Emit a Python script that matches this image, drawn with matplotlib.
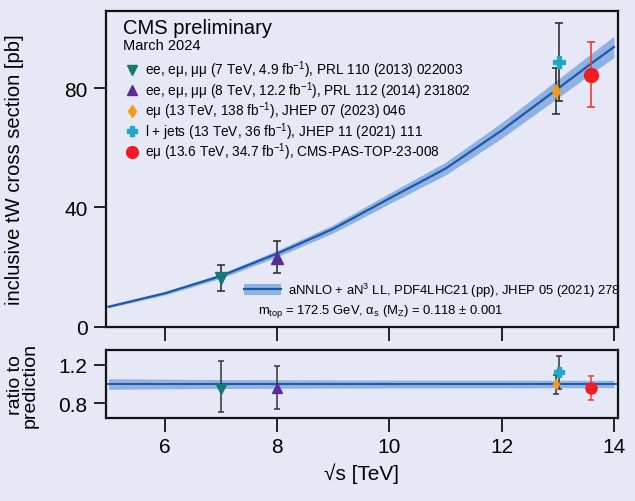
import matplotlib
matplotlib.use("Agg")
import matplotlib.pyplot as plt
from matplotlib.patches import Patch
from matplotlib.lines import Line2D
import numpy as np

plt.rcParams['font.family'] = ['Liberation Sans', 'DejaVu Sans']
plt.rcParams['mathtext.fontset'] = 'custom'
plt.rcParams['mathtext.rm'] = 'Liberation Sans'
plt.rcParams['mathtext.it'] = 'Liberation Sans:italic'
plt.rcParams['mathtext.bf'] = 'Liberation Sans:bold'

# ---------------- data ----------------
theory_x = [5, 6, 7, 8, 9, 10, 11, 12, 13, 13.6, 14]
theory_y = [6.7, 11.2, 17.0, 24.5, 32.8, 43.0, 53.0, 65.8, 79.8, 88.3, 93.8]
theory_relunc = [0.055, 0.05, 0.046, 0.044, 0.042, 0.041, 0.04, 0.04, 0.039, 0.038, 0.038]

meas_labels = [
    r"ee, eμ, μμ (7 TeV, 4.9 fb$^{-1}$), PRL 110 (2013) 022003",
    r"ee, eμ, μμ (8 TeV, 12.2 fb$^{-1}$), PRL 112 (2014) 231802",
    r"eμ (13 TeV, 138 fb$^{-1}$), JHEP 07 (2023) 046",
    r"l + jets (13 TeV, 36 fb$^{-1}$), JHEP 11 (2021) 111",
    r"eμ (13.6 TeV, 34.7 fb$^{-1}$), CMS-PAS-TOP-23-008",
]
meas_x = [7.0, 8.0, 12.97, 13.03, 13.6]
meas_y = [16.2, 23.0, 79.0, 88.7, 84.5]
meas_err_lo = [4.2, 5.1, 7.7, 13.0, 10.9]
meas_err_hi = [4.6, 5.6, 7.7, 13.1, 11.0]

ratio_y = [0.948, 0.955, 1.0, 1.12, 0.96]
ratio_lo = [0.707, 0.741, 0.894, 0.953, 0.835]
ratio_hi = [1.238, 1.187, 1.096, 1.287, 1.085]

markers = ['v', '^', 'd', 'P', 'o']
colors = ['#127a70', '#5a2d96', '#f59a1c', '#1fa9c4', '#f01c24']
ecolors = ['#333333', '#333333', '#333333', '#333333', '#ee3b3b']
msizes = [8, 8, 7, 9, 10]
rsizes = [7, 7, 5.5, 7, 8]

xticks = [6, 8, 10, 12, 14]
yticks_main = [0, 40, 80]
yticks_ratio = [0.8, 1.2]

# ---------------- style ----------------
bg = '#e6e9f5'
band_col = '#8fb1e3'
line_col = '#1c5aa8'

fig = plt.figure(figsize=(6.35, 5.02), dpi=100, facecolor=bg)
ax = fig.add_axes([0.1665, 0.3472, 0.8063, 0.6295], facecolor=bg)
axr = fig.add_axes([0.1665, 0.1653, 0.8063, 0.1355], facecolor=bg)

tx = np.array(theory_x)
ty = np.array(theory_y)
tu = np.array(theory_relunc)

ax.fill_between(tx, ty * (1 - tu), ty * (1 + tu), color=band_col, lw=0, zorder=1)
ax.plot(tx, ty, color=line_col, lw=1.6, zorder=2)

for i in range(len(meas_x)):
    ax.errorbar([meas_x[i]], [meas_y[i]], yerr=[[meas_err_lo[i]], [meas_err_hi[i]]],
                fmt='none', ecolor=ecolors[i], elinewidth=1.2, capsize=3, capthick=1.2, zorder=3)
    ax.plot([meas_x[i]], [meas_y[i]], ls='none', marker=markers[i], color=colors[i],
            ms=msizes[i], mec=colors[i], zorder=4, label=meas_labels[i])

ax.set_xlim(4.95, 14.07)
ax.set_ylim(0, 106)
ax.set_xticks(xticks)
ax.set_xticklabels([])
ax.set_yticks(yticks_main)
ax.set_ylabel("inclusive tW cross section [pb]", fontsize=14.5)

# ratio panel
axr.fill_between(tx, 1 - tu, 1 + tu, color=band_col, lw=0, zorder=1)
axr.axhline(1.0, color=line_col, lw=1.4, zorder=2)
for i in range(len(meas_x)):
    axr.errorbar([meas_x[i]], [ratio_y[i]],
                 yerr=[[ratio_y[i] - ratio_lo[i]], [ratio_hi[i] - ratio_y[i]]],
                 fmt='none', ecolor=ecolors[i], elinewidth=1.1, capsize=2.5, capthick=1.1, zorder=3)
    axr.plot([meas_x[i]], [ratio_y[i]], ls='none', marker=markers[i], color=colors[i],
             ms=rsizes[i], mec=colors[i], zorder=4)
axr.set_xlim(4.95, 14.07)
axr.set_ylim(0.648, 1.352)
axr.set_xticks(xticks)
axr.set_yticks(yticks_ratio)
axr.set_yticklabels(['0.8', '1.2'])
axr.set_xlabel("√s [TeV]", fontsize=15, labelpad=4)
axr.set_ylabel("ratio to\nprediction", fontsize=14, linespacing=0.85)

for a in (ax, axr):
    for s in a.spines.values():
        s.set_linewidth(1.6)
        s.set_color('#111111')
    a.tick_params(axis='both', direction='out', length=10, width=1.3, labelsize=15,
                  color='#111111', pad=4)
    a.tick_params(axis='y', length=9)
    a.minorticks_off()

ax.yaxis.set_label_coords(-0.16, 0.5)
axr.yaxis.set_label_coords(-0.13, 0.5)

# texts
ax.text(0.033, 0.948, "CMS preliminary", transform=ax.transAxes, fontsize=14.5, va='center', ha='left')
ax.text(0.033, 0.890, "March 2024", transform=ax.transAxes, fontsize=10.5, va='center', ha='left')

leg = ax.legend(loc='upper left', bbox_to_anchor=(0.040, 0.848), frameon=False, fontsize=9.8,
                handlelength=0.9, handletextpad=0.5, labelspacing=-0.08, borderpad=0,
                borderaxespad=0, markerscale=0.85)

band_handle = (Patch(facecolor=band_col, edgecolor='none'), Line2D([], [], color=line_col, lw=1.6))
leg2 = ax.legend([band_handle], [r"aNNLO + aN$^{3}$ LL, PDF4LHC21 (pp), JHEP 05 (2021) 278"],
                 loc='center left', bbox_to_anchor=(0.270, 0.116), frameon=False, fontsize=9.4,
                 handlelength=2.8, handleheight=0.95, handletextpad=0.6, borderpad=0, borderaxespad=0)
ax.add_artist(leg)

ax.text(0.2975, 0.051, r"m$_{\rm top}$ = 172.5 GeV, α$_{\rm s}$ (M$_{\rm Z}$) = 0.118 ± 0.001",
        transform=ax.transAxes, fontsize=9.4, va='center', ha='left')

fig.savefig("out.png", dpi=100, facecolor=bg)
